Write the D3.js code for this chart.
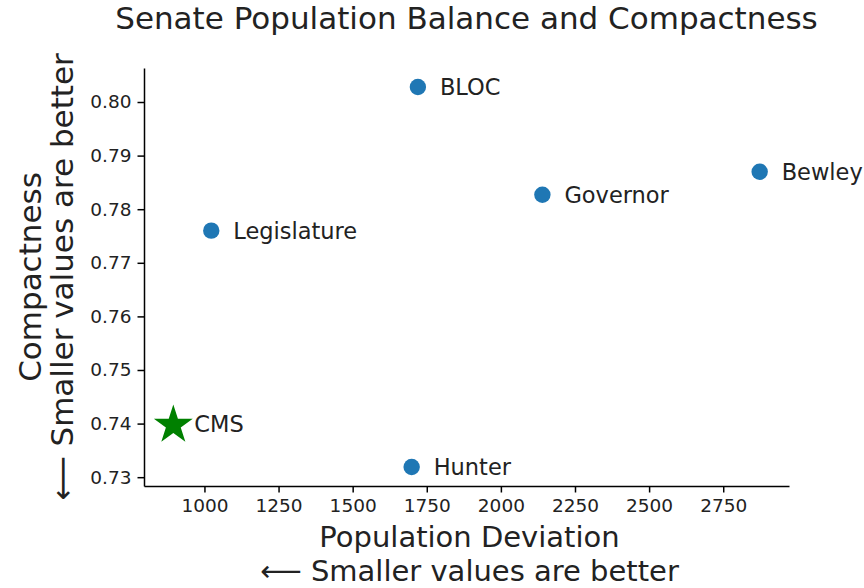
<!DOCTYPE html>
<html>
<head>
<meta charset="utf-8">
<script src="https://cdn.jsdelivr.net/npm/d3@7"></script>
<style>
  body { margin: 0; background: #fff; }
  svg text { font-family: "DejaVu Sans", sans-serif; }
</style>
</head>
<body>
<div id="chart"></div>
<script>
"use strict";

// plans drawn as blue dots
const planNames = ["Legislature", "BLOC", "Governor", "Bewley", "Hunter"];
const planDeviation = [1023, 1720, 2140, 2873, 1699];
const planCompactness = [0.776, 0.8028, 0.7827, 0.787, 0.7319];

// the highlighted plan (green star)
const starNames = ["CMS"];
const starDeviation = [895];
const starCompactness = [0.740];

const xTicks = [1000, 1250, 1500, 1750, 2000, 2250, 2500, 2750];
const yTicks = [0.73, 0.74, 0.75, 0.76, 0.77, 0.78, 0.79, 0.80];

const width = 864, height = 588;
const margin = {top: 68, right: 75, bottom: 102, left: 144};
const innerW = width - margin.left - margin.right;
const innerH = height - margin.top - margin.bottom;

const svg = d3.select("#chart").append("svg")
  .attr("width", width)
  .attr("height", height);

const g = svg.append("g")
  .attr("transform", `translate(${margin.left},${margin.top})`);

// matplotlib style 5% margins around the data
const allX = planDeviation.concat(starDeviation);
const allY = planCompactness.concat(starCompactness);
const xMin = d3.min(allX), xMax = d3.max(allX);
const yMin = d3.min(allY), yMax = d3.max(allY);
const xPad = (xMax - xMin) * 0.05, yPad = (yMax - yMin) * 0.05;

const x = d3.scaleLinear().domain([xMin - xPad, xMax + xPad]).range([0, innerW]);
const y = d3.scaleLinear().domain([yMin - yPad, yMax + yPad]).range([innerH, 0]);

const xAxis = g.append("g")
  .attr("transform", `translate(0,${innerH})`)
  .call(d3.axisBottom(x).tickValues(xTicks).tickFormat(d3.format("d")).tickSize(6.5).tickPadding(6).tickSizeOuter(0));

const yAxis = g.append("g")
  .call(d3.axisLeft(y).tickValues(yTicks).tickFormat(d3.format(".2f")).tickSize(6.5).tickPadding(6).tickSizeOuter(0));

[xAxis, yAxis].forEach(a => {
  a.select(".domain").attr("stroke", "#000").attr("stroke-width", 1.5);
  a.selectAll(".tick line").attr("stroke", "#000").attr("stroke-width", 1.5);
  a.selectAll(".tick text")
    .attr("fill", "#222")
    .style("font-size", "18.5px")
    .style("font-family", "DejaVu Sans, sans-serif");
});

// blue dots
const plans = planNames.map((n, i) => ({name: n, dev: planDeviation[i], comp: planCompactness[i]}));
g.selectAll(".dot")
  .data(plans)
  .enter()
  .append("circle")
  .attr("class", "dot")
  .attr("cx", d => x(d.dev))
  .attr("cy", d => y(d.comp))
  .attr("r", 8.2)
  .attr("fill", "#1f77b4");

g.selectAll(".dot-label")
  .data(plans)
  .enter()
  .append("text")
  .attr("class", "dot-label")
  .attr("x", d => x(d.dev) + 22)
  .attr("y", d => y(d.comp))
  .attr("dy", "0.36em")
  .attr("fill", "#222")
  .style("font-size", "22.5px")
  .text(d => d.name);

// green star
const stars = starNames.map((n, i) => ({name: n, dev: starDeviation[i], comp: starCompactness[i]}));
g.selectAll(".star")
  .data(stars)
  .enter()
  .append("path")
  .attr("class", "star")
  .attr("transform", d => `translate(${x(d.dev)},${y(d.comp) + 1.5})`)
  .attr("d", d3.symbol(d3.symbolStar, 470))
  .attr("fill", "green");

g.selectAll(".star-label")
  .data(stars)
  .enter()
  .append("text")
  .attr("class", "star-label")
  .attr("x", d => x(d.dev) + 21)
  .attr("y", d => y(d.comp))
  .attr("dy", "0.36em")
  .attr("fill", "#222")
  .style("font-size", "22.5px")
  .text(d => d.name);

// title
svg.append("text")
  .attr("x", margin.left + innerW / 2)
  .attr("y", 29)
  .attr("text-anchor", "middle")
  .attr("fill", "#222")
  .style("font-size", "31px")
  .text("Senate Population Balance and Compactness");

// x label
const xMid = margin.left + innerW / 2 + 3;
const xl = svg.append("text")
  .attr("x", xMid)
  .attr("y", 547)
  .attr("text-anchor", "middle")
  .attr("fill", "#222")
  .style("font-size", "29px");
xl.append("tspan").attr("x", xMid).text("Population Deviation");
xl.append("tspan").attr("x", xMid).attr("dy", 34).text("\u27F5 Smaller values are better");

// y label
const cy = margin.top + innerH / 2;
const yl = svg.append("text")
  .attr("transform", `translate(41,${cy}) rotate(-90)`)
  .attr("text-anchor", "middle")
  .attr("fill", "#222")
  .style("font-size", "31px");
yl.append("tspan").attr("x", 0).attr("y", 0).text("Compactness");
yl.append("tspan").attr("x", 0).attr("dy", 32).text("\u27F5 Smaller values are better");
</script>
</body>
</html>
